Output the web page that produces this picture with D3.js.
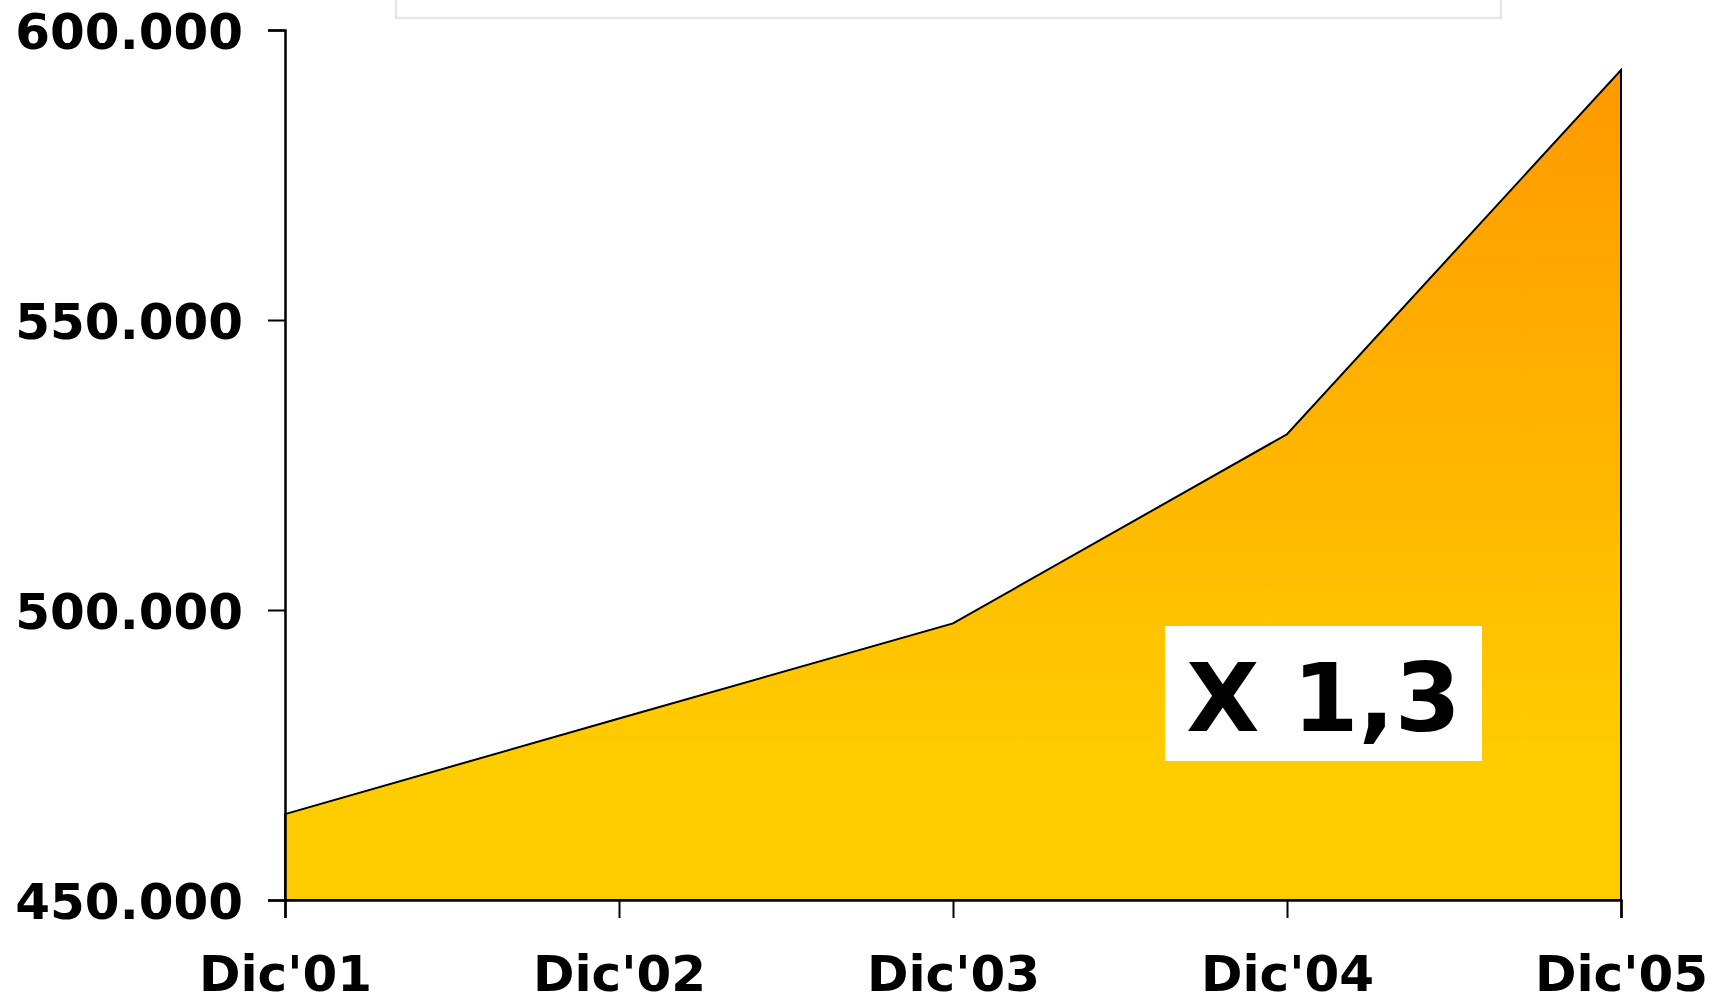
<!DOCTYPE html>
<html>
<head>
<meta charset="utf-8">
<script src="https://cdn.jsdelivr.net/npm/d3@7"></script>
<style>
  html, body { margin: 0; padding: 0; background: #ffffff; }
  svg { display: block; }
  .tick text { font-family: "DejaVu Sans", Verdana, sans-serif; font-weight: bold; fill: #000; }
</style>
</head>
<body>
<svg id="chart" width="1715" height="1000"></svg>
<script>
// Periods (December of each year) and the series value at each one
const categories = ["Dic'01", "Dic'02", "Dic'03", "Dic'04", "Dic'05"];
const values = [464800, 481300, 497700, 530300, 593100];
const yTicks = [450000, 500000, 550000, 600000];
const growthLabel = "X 1,3";

const width = 1715, height = 1000;
const margin = { top: 30, right: 94, bottom: 100, left: 285 };

const svg = d3.select("#chart");

const x = d3.scalePoint()
  .domain(categories)
  .range([margin.left, width - margin.right]);

const y = d3.scaleLinear()
  .domain([450000, 600000])
  .range([height - margin.bottom, margin.top]);

// Thousands separated with a dot
const fmt = v => d3.format(",")(v).replace(/,/g, ".");

// Legend frame along the top edge
svg.append("rect")
  .attr("x", 396).attr("y", -10)
  .attr("width", 1105).attr("height", 28)
  .attr("fill", "#ffffff")
  .attr("stroke", "#e6e6e6")
  .attr("stroke-width", 2.5);

// Vertical orange → yellow fill
const defs = svg.append("defs");
const grad = defs.append("linearGradient")
  .attr("id", "areaFill")
  .attr("gradientUnits", "userSpaceOnUse")
  .attr("x1", 0).attr("x2", 0)
  .attr("y1", y(d3.max(values))).attr("y2", y(450000));
grad.append("stop").attr("offset", "0").attr("stop-color", "#ff9900");
grad.append("stop").attr("offset", "0.82").attr("stop-color", "#ffcc00");
grad.append("stop").attr("offset", "1").attr("stop-color", "#ffcc00");

const data = categories.map((c, i) => ({ c, v: values[i] }));

const area = d3.area()
  .x(d => x(d.c))
  .y0(y(450000))
  .y1(d => y(d.v));

svg.append("path")
  .datum(data)
  .attr("d", area)
  .attr("fill", "url(#areaFill)")
  .attr("stroke", "#000")
  .attr("stroke-width", 2)
  .attr("stroke-linejoin", "miter");

// Axes
const yAxis = svg.append("g")
  .attr("transform", `translate(${margin.left},0)`)
  .call(d3.axisLeft(y).tickValues(yTicks).tickFormat(fmt).tickSize(17).tickPadding(25));
yAxis.selectAll(".tick text").attr("font-size", 50).attr("dy", "0.36em");

const xAxis = svg.append("g")
  .attr("transform", `translate(0,${y(450000)})`)
  .call(d3.axisBottom(x).tickSize(18).tickPadding(37));
xAxis.selectAll(".tick text").attr("font-size", 50);

[yAxis, xAxis].forEach(g => {
  g.select(".domain").attr("stroke", "#000").attr("stroke-width", 2.5);
  g.selectAll(".tick line").attr("stroke", "#000").attr("stroke-width", 2);
});

// Growth annotation box
const box = { x: 1165, y: 626, w: 317, h: 135 };
svg.append("rect")
  .attr("x", box.x).attr("y", box.y)
  .attr("width", box.w).attr("height", box.h)
  .attr("fill", "#ffffff");
svg.append("text")
  .attr("x", box.x + box.w / 2)
  .attr("y", 731)
  .attr("text-anchor", "middle")
  .attr("font-family", "'DejaVu Sans', Verdana, sans-serif")
  .attr("font-weight", "bold")
  .attr("font-size", 95)
  .attr("fill", "#000")
  .text(growthLabel);
</script>
</body>
</html>
